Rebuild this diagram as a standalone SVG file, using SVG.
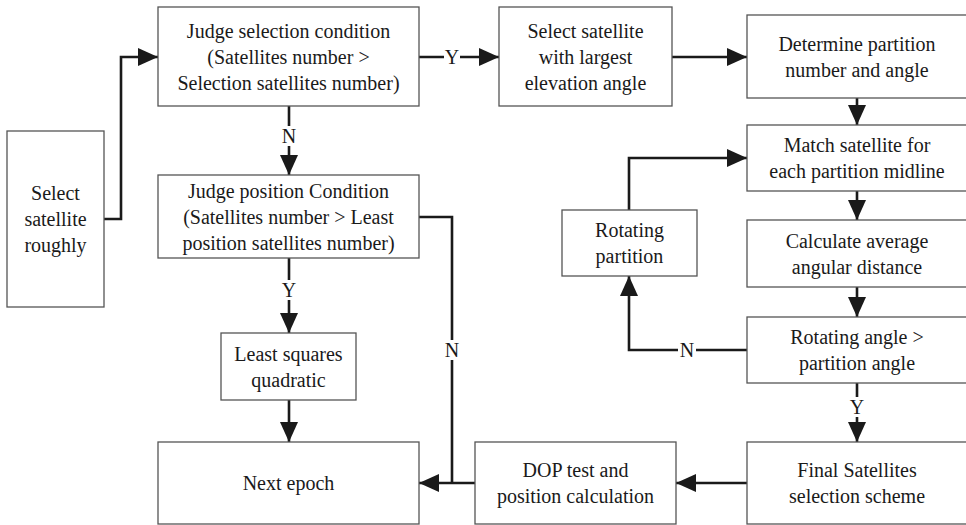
<svg xmlns="http://www.w3.org/2000/svg" width="966" height="525" viewBox="0 0 966 525">
  <defs>
    <marker id="head" markerUnits="userSpaceOnUse" markerWidth="22" markerHeight="20" refX="20" refY="9" orient="auto">
      <path d="M0,0 L20,9 L0,18 Z" fill="#1a1a1a"/>
    </marker>
  </defs>
  <rect width="966" height="525" fill="#ffffff"/>

  <!-- connectors -->
  <g id="connectors" fill="none" stroke="#1a1a1a" stroke-width="2.6">
    <polyline marker-end="url(#head)" points="104,219 121,219 121,57 158,57"/>
    <line marker-end="url(#head)" x1="419" y1="57" x2="499" y2="57"/>
    <line marker-end="url(#head)" x1="672" y1="57" x2="747" y2="57"/>
    <line marker-end="url(#head)" x1="289" y1="106" x2="289" y2="175"/>
    <line marker-end="url(#head)" x1="289" y1="258" x2="289" y2="333"/>
    <line marker-end="url(#head)" x1="289" y1="400" x2="289" y2="442"/>
    <polyline points="419,217 452,217 452,483"/>
    <line marker-end="url(#head)" x1="475" y1="483" x2="419" y2="483"/>
    <line marker-end="url(#head)" x1="747" y1="483" x2="676" y2="483"/>
    <line marker-end="url(#head)" x1="857" y1="98" x2="857" y2="125"/>
    <line marker-end="url(#head)" x1="857" y1="191" x2="857" y2="220"/>
    <line marker-end="url(#head)" x1="857" y1="287" x2="857" y2="317"/>
    <line marker-end="url(#head)" x1="857" y1="383" x2="857" y2="442"/>
    <polyline marker-end="url(#head)" points="747,350 629,350 629,276"/>
    <polyline marker-end="url(#head)" points="629,210 629,158 747,158"/>

    <!-- branch labels, each on a white gap in its line -->
    <g fill="#ffffff" stroke="none">
      <rect x="444" y="47" width="16" height="20"/>
      <rect x="280" y="126" width="18" height="20"/>
      <rect x="280" y="280" width="18" height="20"/>
      <rect x="443" y="340" width="18" height="20"/>
      <rect x="678" y="340" width="18" height="20"/>
      <rect x="848" y="397" width="18" height="20"/>
    </g>
    <g fill="#1a1a1a" stroke="none" font-size="20" text-anchor="middle">
      <text font-family="Liberation Serif" x="452" y="64">Y</text>
      <text font-family="Liberation Serif" x="289" y="143">N</text>
      <text font-family="Liberation Serif" x="289" y="297">Y</text>
      <text font-family="Liberation Serif" x="452" y="357">N</text>
      <text font-family="Liberation Serif" x="687" y="357">N</text>
      <text font-family="Liberation Serif" x="857" y="414">Y</text>
    </g>
  </g>

  <!-- nodes -->
  <g fill="#ffffff" stroke="#555555" stroke-width="1.3">
    <rect id="box-select-roughly" x="7" y="131" width="97" height="176"/>
    <rect id="box-judge-selection" x="158" y="7" width="261" height="99"/>
    <rect id="box-select-largest" x="499" y="7" width="173" height="99"/>
    <rect id="box-determine-partition" x="747" y="15" width="222" height="83"/>
    <rect id="box-judge-position" x="158" y="175" width="261" height="83"/>
    <rect id="box-match-satellite" x="747" y="125" width="222" height="66"/>
    <rect id="box-rotating-partition" x="562" y="210" width="135" height="66"/>
    <rect id="box-calculate-distance" x="747" y="220" width="222" height="67"/>
    <rect id="box-rotating-angle" x="747" y="317" width="222" height="66"/>
    <rect id="box-least-squares" x="221" y="333" width="135" height="67"/>
    <rect id="box-next-epoch" x="158" y="442" width="261" height="82"/>
    <rect id="box-dop-test" x="475" y="442" width="201" height="82"/>
    <rect id="box-final-scheme" x="747" y="442" width="222" height="82"/>
  </g>

  <g fill="#1a1a1a" font-size="20" text-anchor="middle">
    <g id="select-roughly">
      <text font-family="Liberation Serif" x="55.5" y="200">Select</text>
      <text font-family="Liberation Serif" x="55.5" y="226">satellite</text>
      <text font-family="Liberation Serif" x="55.5" y="252">roughly</text>
    </g>
    <g id="judge-selection">
      <text font-family="Liberation Serif" x="288.5" y="38">Judge selection condition</text>
      <text font-family="Liberation Serif" x="288.5" y="64">(Satellites number &gt;</text>
      <text font-family="Liberation Serif" x="288.5" y="90">Selection satellites number)</text>
    </g>
    <g id="select-largest">
      <text font-family="Liberation Serif" x="585.5" y="38">Select satellite</text>
      <text font-family="Liberation Serif" x="585.5" y="64">with largest</text>
      <text font-family="Liberation Serif" x="585.5" y="90">elevation angle</text>
    </g>
    <g id="determine-partition">
      <text font-family="Liberation Serif" x="857" y="51">Determine partition</text>
      <text font-family="Liberation Serif" x="857" y="77">number and angle</text>
    </g>
    <g id="judge-position">
      <text font-family="Liberation Serif" x="288.5" y="197.5">Judge position Condition</text>
      <text font-family="Liberation Serif" x="288.5" y="223.5">(Satellites number &gt; Least</text>
      <text font-family="Liberation Serif" x="288.5" y="249.5">position satellites number)</text>
    </g>
    <g id="match-satellite">
      <text font-family="Liberation Serif" x="857" y="152">Match satellite for</text>
      <text font-family="Liberation Serif" x="857" y="178">each partition midline</text>
    </g>
    <g id="rotating-partition">
      <text font-family="Liberation Serif" x="629.5" y="237">Rotating</text>
      <text font-family="Liberation Serif" x="629.5" y="263">partition</text>
    </g>
    <g id="calculate-distance">
      <text font-family="Liberation Serif" x="857" y="247.5">Calculate  average</text>
      <text font-family="Liberation Serif" x="857" y="273.5">angular distance</text>
    </g>
    <g id="rotating-angle">
      <text font-family="Liberation Serif" x="857" y="344">Rotating angle &gt;</text>
      <text font-family="Liberation Serif" x="857" y="370">partition angle</text>
    </g>
    <g id="least-squares">
      <text font-family="Liberation Serif" x="288.5" y="360.5">Least squares</text>
      <text font-family="Liberation Serif" x="288.5" y="386.5">quadratic</text>
    </g>
    <g id="next-epoch">
      <text font-family="Liberation Serif" x="288.5" y="490">Next epoch</text>
    </g>
    <g id="dop-test">
      <text font-family="Liberation Serif" x="575.5" y="477">DOP test and</text>
      <text font-family="Liberation Serif" x="575.5" y="503">position calculation</text>
    </g>
    <g id="final-scheme">
      <text font-family="Liberation Serif" x="857" y="477">Final Satellites</text>
      <text font-family="Liberation Serif" x="857" y="503">selection scheme</text>
    </g>
  </g>
</svg>
